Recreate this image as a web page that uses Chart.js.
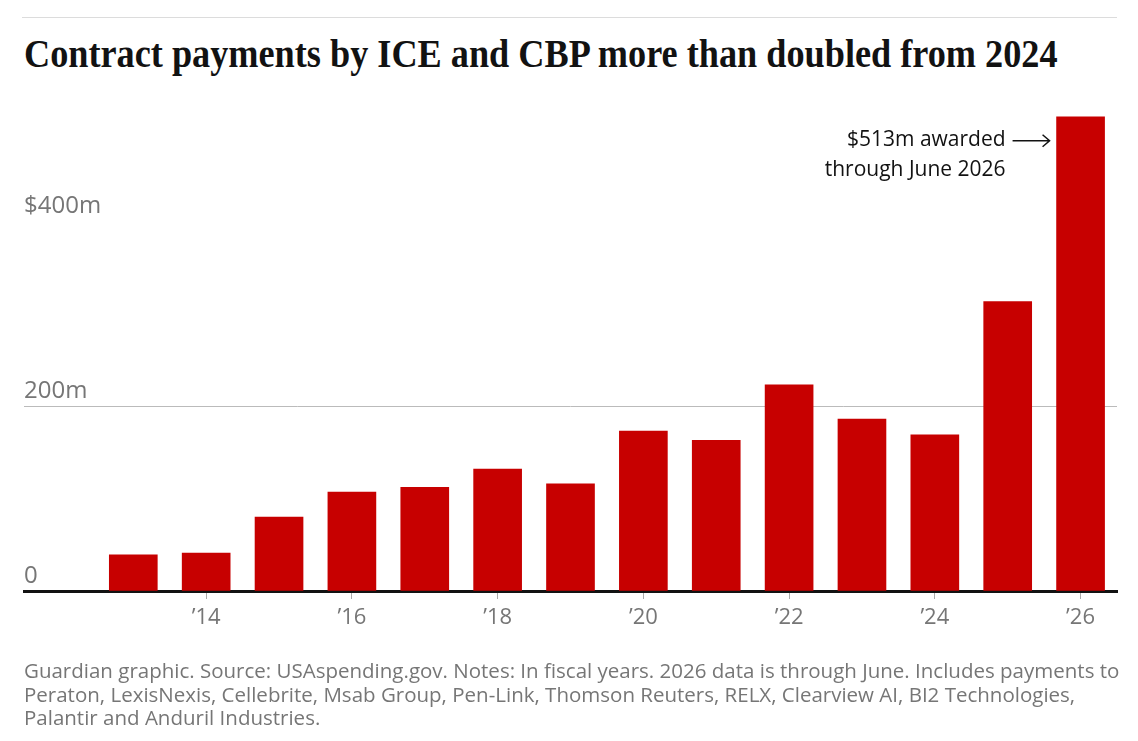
<!DOCTYPE html>
<html>
<head>
<meta charset="utf-8">
<script src="https://cdn.jsdelivr.net/npm/chart.js@4.4.1/dist/chart.umd.min.js"></script>
<style>
  body { margin: 0; background: #fff; width: 1138px; height: 741px; overflow: hidden; position: relative; }
  #rule { position: absolute; left: 22px; top: 17px; width: 1095px; height: 1px; background: #dcdcdc; }
  #title { position: absolute; left: 24px; top: 31px; margin: 0; font-family: "Liberation Serif", serif; font-weight: 700; font-size: 40px; line-height: 46px; color: #121212; white-space: nowrap; transform: scaleX(0.906); transform-origin: left top; }
  #chartBox { position: absolute; left: 0; top: 0; width: 1138px; height: 741px; }
  #note { position: absolute; left: 24px; top: 659px; width: 1108px; margin: 0; font-family: "Open Sans", sans-serif; font-size: 20.5px; line-height: 23.5px; color: #767676; }
</style>
</head>
<body>
<div id="rule"></div>
<h1 id="title">Contract payments by ICE and CBP more than doubled from 2024</h1>
<div id="chartBox"><canvas id="myChart"></canvas></div>
<p id="note">Guardian graphic. Source: USAspending.gov. Notes: In fiscal years. 2026 data is through June. Includes payments to Peraton, LexisNexis, Cellebrite, Msab Group, Pen-Link, Thomson Reuters, RELX, Clearview AI, BI2 Technologies, Palantir and Anduril Industries.</p>
<script>
// fiscal years and payments in $m
const years = [2013, 2014, 2015, 2016, 2017, 2018, 2019, 2020, 2021, 2022, 2023, 2024, 2025, 2026];
const payments = [39, 41, 80, 107, 112, 132, 116, 173, 163, 223, 186, 169, 313, 513];
const xTicks = [2014, 2016, 2018, 2020, 2022, 2024, 2026];
const yTicks = [0, 200, 400];
const yTickLabels = ["0", "200m", "$400m"];

const barColor = "#c70000";
const greyText = "#767676";

// draws the "$513m awarded" note next to the last bar
const notePlugin = {
  id: "lastBarNote",
  afterDatasetsDraw(chart) {
    const meta = chart.getDatasetMeta(0);
    const bar = meta.data[meta.data.length - 1];
    const left = bar.x - bar.width / 2;
    const ctx = chart.ctx;
    ctx.save();
    ctx.font = "21px 'Open Sans', sans-serif";
    ctx.fillStyle = "#121212";
    ctx.textAlign = "right";
    ctx.textBaseline = "middle";
    ctx.fillText("$" + payments[payments.length - 1] + "m awarded", left - 51, bar.y + 23);
    ctx.fillText("through June " + years[years.length - 1], left - 51, bar.y + 53);
    // arrow
    const ay = bar.y + 24;
    ctx.strokeStyle = "#121212";
    ctx.lineWidth = 1.5;
    ctx.beginPath();
    ctx.moveTo(left - 44, ay);
    ctx.lineTo(left - 7, ay);
    ctx.moveTo(left - 14, ay - 6);
    ctx.lineTo(left - 7, ay);
    ctx.lineTo(left - 14, ay + 6);
    ctx.stroke();
    ctx.restore();
  }
};

const ctx = document.getElementById("myChart").getContext("2d");
window.chart = new Chart(ctx, {
  type: "bar",
  data: {
    datasets: [
      {
        data: years.map((y, i) => ({ x: y, y: payments[i] })),
        backgroundColor: barColor,
        barThickness: 48,
        borderWidth: 0,
      },
    ],
  },
  options: {
    responsive: true,
    maintainAspectRatio: false,
    animation: false,
    events: [],
    layout: { padding: { left: 24, right: 21, top: 101, bottom: 100 } },
    plugins: { legend: { display: false }, tooltip: { enabled: false } },
    scales: {
      x: {
        type: "linear",
        offset: false,
        min: 2011.5,
        max: 2026.5,
        afterBuildTicks: (scale) => { scale.ticks = xTicks.map((v) => ({ value: v })); },
        afterFit: (scale) => { scale.height = 50; },
        grid: { offset: false, drawOnChartArea: false, drawTicks: true, tickLength: 8, tickColor: "#aaaaaa", tickWidth: 1 },
        border: { display: true, color: "#121212", width: 3 },
        ticks: {
          padding: 6,
          color: greyText,
          font: { family: "'Open Sans', sans-serif", size: 22 },
          callback: (v) => "\u2019" + String(v).slice(2),
        },
      },
      y: {
        min: 0,
        max: 530,
        afterBuildTicks: (scale) => { scale.ticks = yTicks.map((v) => ({ value: v })); },
        grid: {
          drawTicks: false,
          color: (c) => (c.tick && c.tick.value === 200 ? "#bbbbbb" : "rgba(0,0,0,0)"),
          lineWidth: 1,
        },
        border: { display: false },
        ticks: {
          mirror: true,
          padding: 0,
          labelOffset: -15,
          color: greyText,
          font: { family: "'Open Sans', sans-serif", size: 24 },
          callback: (v) => yTickLabels[yTicks.indexOf(v)],
        },
      },
    },
  },
  plugins: [notePlugin],
});
</script>
</body>
</html>
